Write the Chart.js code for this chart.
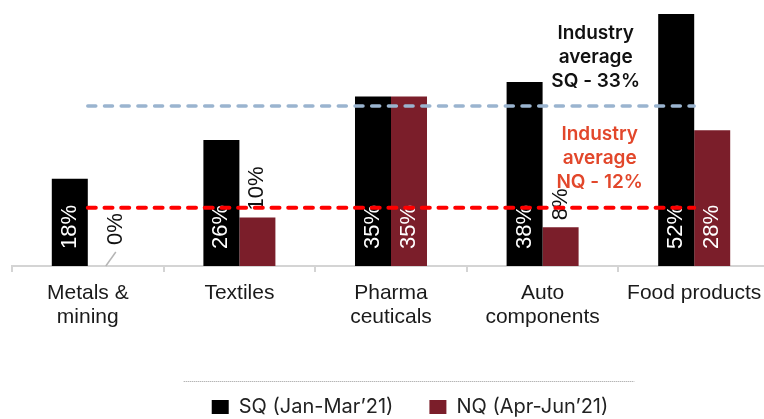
<!DOCTYPE html>
<html>
<head>
<meta charset="utf-8">
<script src="https://cdn.jsdelivr.net/npm/chart.js@4.4.1/dist/chart.umd.min.js"></script>
<style>
html,body{margin:0;padding:0;background:#fff;overflow:hidden;}
#wrap{width:772px;height:419px;}
</style>
</head>
<body>
<div id="wrap"><canvas id="chart" width="772" height="419"></canvas></div>
<script>
// chart data
const categories=[["Metals &","mining"],"Textiles",["Pharma","ceuticals"],["Auto","components"],"Food products"];
const sqValues=[18,26,35,38,52];
const nqValues=[0,10,35,8,28];
const sqAverage=33;
const nqAverage=12;
const seriesNames=["SQ (Jan-Mar\u201921)","NQ (Apr-Jun\u201921)"];
const sqNote=["Industry","average","SQ - 33%"];
const nqNote=["Industry","average","NQ - 12%"];

const tickFont="'Liberation Sans', Arial, sans-serif";
const noteFont="Inter, 'Liberation Sans', sans-serif";


// value labels, rotated, drawn per bar dataset (so the dashed lines sit on top)
const barLabels={
id:"barLabels",
afterDatasetDraw(chart,args){
const ds=chart.data.datasets[args.index];
if(ds.type==="line")return;
const ctx=chart.ctx;
const base=chart.scales.y.getPixelForValue(0);
ctx.save();
ctx.font="22px "+tickFont;
ctx.textBaseline="middle";
ctx.textAlign="left";
args.meta.data.forEach((bar,i)=>{
const v=ds.data[i];
let x=bar.x,y;
if(v>=15){
y=base-17;
ctx.fillStyle="#fff";
}
else if(v===0){
x=bar.x+10;
y=base-21;
ctx.strokeStyle="#b5b5b5";
ctx.lineWidth=1.5;
ctx.beginPath();
ctx.moveTo(bar.x,base);
ctx.lineTo(x,base-14);
ctx.stroke();
ctx.fillStyle="#111";
}
else{
y=bar.y-7;
ctx.fillStyle="#111";
}
ctx.save();
ctx.translate(x,y);
ctx.rotate(-Math.PI/2);
ctx.fillText(v+"%",0,0);
ctx.restore();
});
ctx.restore();
}
};


// industry average notes + dotted rule over the legend
const extras={
id:"extras",
afterLayout(chart){
// nudge the legend to where the original has it
const lg=chart.legend;
lg.left+=19;lg.right+=19;
lg.top+=8;lg.bottom+=8;
},
afterDraw(chart){
const ctx=chart.ctx;
const xs=chart.scales.x,ys=chart.scales.y;
const step=xs.getPixelForValue(1)-xs.getPixelForValue(0);
const cx=xs.getPixelForValue(3)+0.35*step;
ctx.save();
ctx.font="600 19px "+noteFont;
ctx.textAlign="center";
ctx.textBaseline="alphabetic";
ctx.fillStyle="#111";
let yb=ys.getPixelForValue(sqAverage)-19;
sqNote.slice().reverse().forEach((t,i)=>ctx.fillText(t,cx,yb-i*24));
ctx.fillStyle="#e2472b";
yb=ys.getPixelForValue(nqAverage)-20;
nqNote.slice().reverse().forEach((t,i)=>ctx.fillText(t,cx+4,yb-i*24));

const hb=chart.legend.legendHitBoxes;
if(hb&&hb.length){
const first=hb[0],last=hb[hb.length-1];
const y=first.top-15.5;
ctx.strokeStyle="#9a9a9a";
ctx.lineWidth=1;
ctx.setLineDash([1,1]);
ctx.beginPath();
ctx.moveTo(first.left-28,y);
ctx.lineTo(last.left+last.width+26,y);
ctx.stroke();
}
ctx.restore();
}
};


const ctx=document.getElementById("chart").getContext("2d");

const chart=new Chart(ctx,{
type:"bar",
data:{
labels:categories,
datasets:[
{
label:seriesNames[0],
data:sqValues,
backgroundColor:"#000000",
borderWidth:0,
order:2
},
{
label:seriesNames[1],
data:nqValues,
backgroundColor:"#7b1e2a",
borderWidth:0,
order:2
},
{
type:"line",
label:"SQ average",
data:categories.map(()=>sqAverage),
borderColor:"#9ab4cf",
borderWidth:3.5,
borderDash:[8,8.7],
borderCapStyle:"round",
pointRadius:0,
fill:false,
order:1
},
{
type:"line",
label:"NQ average",
data:categories.map(()=>nqAverage),
borderColor:"#ff0000",
borderWidth:4,
borderDash:[8,8.7],
borderCapStyle:"round",
pointRadius:0,
fill:false,
order:0
}
]
},
options:{
responsive:false,
animation:false,
events:[],
layout:{padding:{left:12,right:2,top:0,bottom:0}},
datasets:{
bar:{categoryPercentage:0.475,barPercentage:1}
},
scales:{
x:{
grid:{display:true,drawOnChartArea:false,color:"#d4d4d4",lineWidth:2,tickLength:6},
border:{display:true,color:"#d4d4d4",width:2},
ticks:{
color:"#1a1a1a",
font:{family:tickFont,size:21,lineHeight:1.143},
padding:9,
maxRotation:0,
autoSkip:false
},
afterFit(scale){scale.height=87;}
},
y:{
display:false,
min:0,
max:54.9
}
},
plugins:{
tooltip:{enabled:false},
legend:{
position:"bottom",
labels:{
filter:item=>item.datasetIndex<2,
boxWidth:17,
boxHeight:14,
padding:36,
color:"#222",
font:{family:noteFont,size:20}
}
}
}
},
plugins:[barLabels,extras]
});
</script>
</body>
</html>
